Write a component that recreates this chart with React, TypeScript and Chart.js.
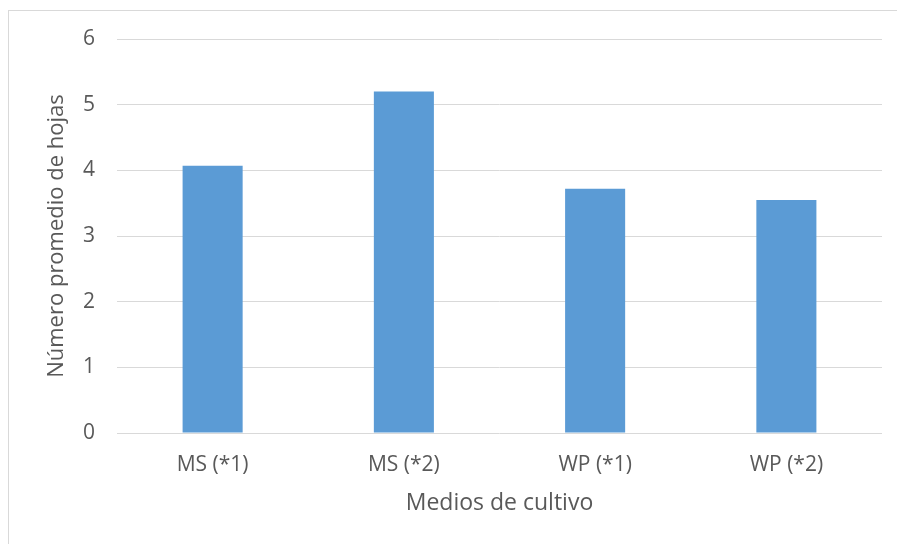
import React, { useEffect, useRef } from "react";
import { Chart, registerables } from "chart.js";

Chart.register(...registerables);

const categories = ["MS (*1)", "MS (*2)", "WP (*1)", "WP (*2)"];
const values = [4.07, 5.2, 3.72, 3.55];
const yTicks = [0, 1, 2, 3, 4, 5, 6];
const xTitle = "Medios de cultivo";
const yTitle = "Número promedio de hojas";

export default function App() {
  const ref = useRef<HTMLCanvasElement | null>(null);

  useEffect(() => {
    if (!ref.current) return;
    const chart = new Chart(ref.current, {
      type: "bar",
      data: {
        labels: categories,
        datasets: [
          {
            data: values,
            backgroundColor: "#5B9BD5",
            borderWidth: 0,
            barPercentage: 0.314,
            categoryPercentage: 1,
          },
        ],
      },
      options: {
        animation: false,
        responsive: true,
        maintainAspectRatio: false,
        layout: { padding: { left: 0, right: 15, top: 39, bottom: 0 } },
        plugins: { legend: { display: false }, tooltip: { enabled: false } },
        scales: {
          x: {
            grid: { display: false, drawTicks: false },
            border: { display: false },
            ticks: {
              color: "#595959",
              font: { family: "'Open Sans'", size: 21 },
              padding: 19,
              maxRotation: 0,
            },
            title: {
              display: true,
              text: xTitle,
              color: "#595959",
              font: { family: "'Open Sans'", size: 23 },
              padding: { top: 0, bottom: 27 },
            },
            afterFit: (s: any) => {
              s.height = 111;
            },
          },
          y: {
            min: 0,
            max: 6,
            afterBuildTicks: (s: any) => {
              s.ticks = yTicks.map((v) => ({ value: v }));
            },
            grid: { color: "#d9d9d9", lineWidth: 1, drawTicks: false },
            border: { display: false },
            ticks: {
              color: "#595959",
              font: { family: "'Open Sans'", size: 21 },
              padding: 22,
            },
            title: {
              display: true,
              text: yTitle,
              color: "#595959",
              font: { family: "'Open Sans'", size: 22 },
              padding: { top: 44, bottom: 0 },
            },
            afterFit: (s: any) => {
              s.width = 117;
            },
          },
        },
      },
    });
    return () => chart.destroy();
  }, []);

  return (
    <div
      style={{
        position: "absolute",
        left: 0,
        top: 0,
        width: 897,
        height: 544,
        overflow: "hidden",
        background: "#fff",
      }}
    >
      <div
        style={{
          position: "absolute",
          left: 8,
          top: 10,
          width: 1000,
          height: 1000,
          border: "1px solid #d9d9d9",
          boxSizing: "border-box",
        }}
      />
      <div style={{ position: "absolute", left: 0, top: 0, width: 897, height: 544 }}>
        <canvas ref={ref} />
      </div>
    </div>
  );
}
